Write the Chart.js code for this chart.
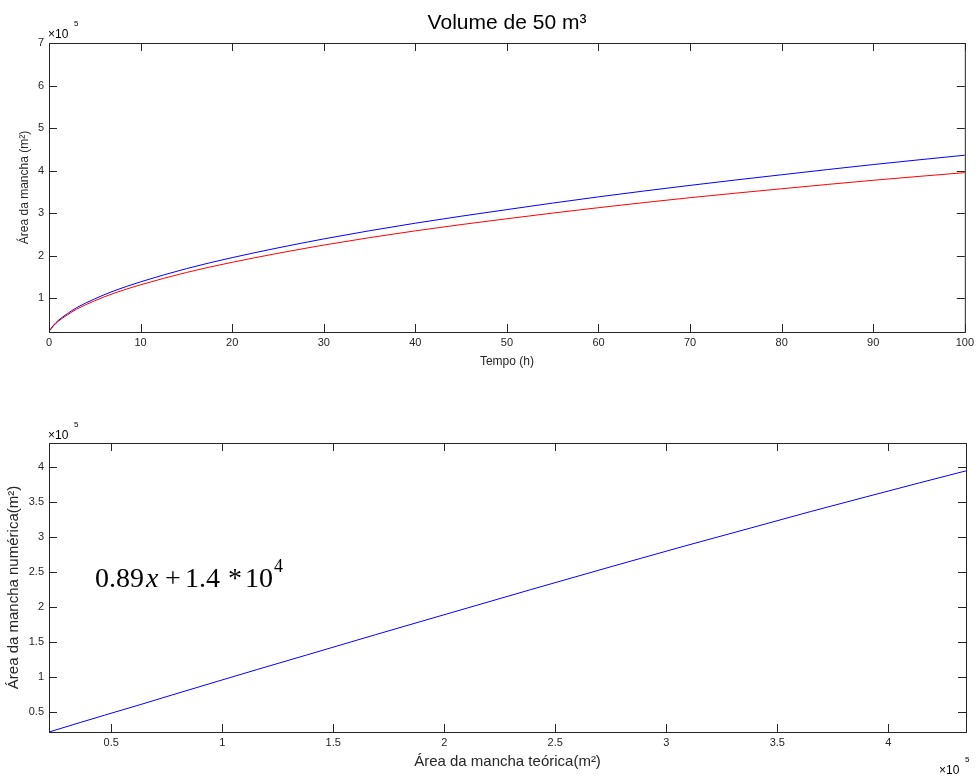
<!DOCTYPE html>
<html>
<head>
<meta charset="utf-8">
<script src="https://cdn.jsdelivr.net/npm/chart.js@4.4.1/dist/chart.umd.min.js"></script>
<style>
  body { margin: 0; background: #fff; }
  .box { position: absolute; left: 0; width: 978px; height: 388px; }
</style>
</head>
<body>
<div class="box" style="top:0"><canvas id="topo"></canvas></div>
<div class="box" style="top:388px"><canvas id="baixo"></canvas></div>
<script>
// valores (area em m2)
const tempo = [0, 0.5, 1, 2, 3, 5, 7, 10, 15, 20, 30, 40, 50, 60, 70, 80, 90, 100];
const areaTeorica = [0.22e5, 0.36e5, 0.47e5, 0.63e5, 0.77e5, 0.98e5, 1.16e5, 1.38e5, 1.69e5,
  1.95e5, 2.39e5, 2.76e5, 3.08e5, 3.38e5, 3.65e5, 3.9e5, 4.14e5, 4.36e5];
const areaNumerica = [0.21e5, 0.345e5, 0.45e5, 0.6e5, 0.735e5, 0.935e5, 1.105e5, 1.31e5, 1.6e5,
  1.84e5, 2.245e5, 2.58e5, 2.865e5, 3.125e5, 3.36e5, 3.57e5, 3.77e5, 3.95e5];

const tempoTicks = [0, 10, 20, 30, 40, 50, 60, 70, 80, 90, 100];
const areaTicksTopo = [1e5, 2e5, 3e5, 4e5, 5e5, 6e5, 7e5];
const areaTicksBaixo = [0.5e5, 1e5, 1.5e5, 2e5, 2.5e5, 3e5, 3.5e5, 4e5];

const FONT = "'Liberation Sans', Arial, sans-serif";
const SERIF = "'Liberation Serif', 'Times New Roman', serif";
const INK = '#262626';

function setTicks(arr) {
  return scale => { scale.ticks = arr.map(v => ({ value: v })); };
}
const fmt5 = v => String(+(v / 1e5).toFixed(1));

// caixa estilo matlab: borda e tracos para dentro nos 4 lados, mais textos extras
const matlabBox = {
  id: 'matlabBox',
  afterDraw(chart, args, opts) {
    const { ctx, chartArea: a, scales: { x, y } } = chart;
    ctx.save();
    ctx.strokeStyle = INK;
    ctx.lineWidth = 1;
    ctx.strokeRect(a.left + 0.5, a.top + 0.5, a.right - a.left, a.bottom - a.top);
    ctx.beginPath();
    x.ticks.forEach(t => {
      const px = Math.round(x.getPixelForValue(t.value)) + 0.5;
      ctx.moveTo(px, a.bottom); ctx.lineTo(px, a.bottom - 8);
      ctx.moveTo(px, a.top); ctx.lineTo(px, a.top + 8);
    });
    y.ticks.forEach(t => {
      const py = Math.round(y.getPixelForValue(t.value)) + 0.5;
      ctx.moveTo(a.left, py); ctx.lineTo(a.left + 8, py);
      ctx.moveTo(a.right, py); ctx.lineTo(a.right - 8, py);
    });
    ctx.stroke();

    ctx.fillStyle = '#000';
    ctx.textBaseline = 'alphabetic';
    (opts.texts || []).forEach(t => {
      ctx.font = t.font;
      ctx.textAlign = t.align || 'left';
      ctx.fillText(t.text, t.x, t.y);
    });
    ctx.restore();
  }
};

function exp5(x, y) {
  return [
    { text: '\u00d710', x: x, y: y, font: '12px ' + FONT },
    { text: '5', x: x + 26, y: y - 12, font: '8px ' + FONT }
  ];
}

function scaleX(min, max, ticks, title, size, fitH, pad, cb) {
  return {
    type: 'linear', min: min, max: max,
    afterBuildTicks: setTicks(ticks),
    afterFit: s => { s.height = fitH; },
    grid: { display: false, drawTicks: false },
    border: { display: false },
    ticks: { color: INK, font: { family: FONT, size: 11 }, padding: 4, autoSkip: false, maxRotation: 0, callback: cb },
    title: { display: true, text: title, color: INK, font: { family: FONT, size: size }, padding: { top: 0, bottom: pad } }
  };
}

function scaleY(min, max, ticks, title, size, pad) {
  return {
    type: 'linear', min: min, max: max,
    afterBuildTicks: setTicks(ticks),
    afterFit: s => { s.width = 49; },
    grid: { display: false, drawTicks: false },
    border: { display: false },
    ticks: { color: INK, font: { family: FONT, size: 11 }, padding: 5, autoSkip: false, callback: fmt5 },
    title: { display: true, text: title, color: INK, font: { family: FONT, size: size }, padding: { top: pad, bottom: 0 } }
  };
}

const common = {
  responsive: true,
  maintainAspectRatio: false,
  devicePixelRatio: 1,
  animation: false,
  events: [],
  plugins: { legend: { display: false }, tooltip: { enabled: false } }
};

new Chart(document.getElementById('topo'), {
  type: 'line',
  data: {
    datasets: [
      {
        data: tempo.map((t, i) => ({ x: t, y: areaTeorica[i] })),
        borderColor: '#0000ff', borderWidth: 1, pointRadius: 0,
        cubicInterpolationMode: 'monotone', order: 1
      },
      {
        data: tempo.map((t, i) => ({ x: t, y: areaNumerica[i] })),
        borderColor: '#ff0000', borderWidth: 1, pointRadius: 0,
        cubicInterpolationMode: 'monotone', order: 0
      }
    ]
  },
  options: {
    ...common,
    layout: { padding: { left: 0, right: 12, top: 43, bottom: 0 } },
    scales: {
      x: scaleX(0, 100, tempoTicks, 'Tempo (h)', 12, 56, 19, v => String(v)),
      y: scaleY(0.2e5, 7e5, areaTicksTopo, '\u00c1rea da mancha (m\u00b2)', 12, 17)
    },
    plugins: {
      ...common.plugins,
      matlabBox: {
        texts: [
          { text: 'Volume de 50 m\u00b3', x: 507, y: 29, font: '21px ' + FONT, align: 'center' },
          ...exp5(48, 38)
        ]
      }
    }
  },
  plugins: [matlabBox]
});

new Chart(document.getElementById('baixo'), {
  type: 'line',
  data: {
    datasets: [{
      data: areaTeorica.map((v, i) => ({ x: v, y: areaNumerica[i] })),
      borderColor: '#0000ff', borderWidth: 1, pointRadius: 0
    }]
  },
  options: {
    ...common,
    layout: { padding: { left: 0, right: 12, top: 55, bottom: 0 } },
    scales: {
      x: scaleX(0.22e5, 4.35e5, areaTicksBaixo, '\u00c1rea da mancha te\u00f3rica(m\u00b2)', 15, 44, 5, fmt5),
      y: scaleY(0.21e5, 4.34e5, areaTicksBaixo, '\u00c1rea da mancha num\u00e9rica(m\u00b2)', 15, 5)
    },
    plugins: {
      ...common.plugins,
      matlabBox: {
        texts: [
          ...exp5(48, 51),
          ...exp5(939, 386),
          { text: '0.89', x: 95, y: 199, font: '28px ' + SERIF },
          { text: 'x', x: 146, y: 199, font: 'italic 28px ' + SERIF },
          { text: '+', x: 165, y: 199, font: '28px ' + SERIF },
          { text: '1.4', x: 185, y: 199, font: '28px ' + SERIF },
          { text: '*', x: 228, y: 199, font: '28px ' + SERIF },
          { text: '10', x: 245, y: 199, font: '28px ' + SERIF },
          { text: '4', x: 274, y: 184, font: '18px ' + SERIF }
        ]
      }
    }
  },
  plugins: [matlabBox]
});
</script>
</body>
</html>
